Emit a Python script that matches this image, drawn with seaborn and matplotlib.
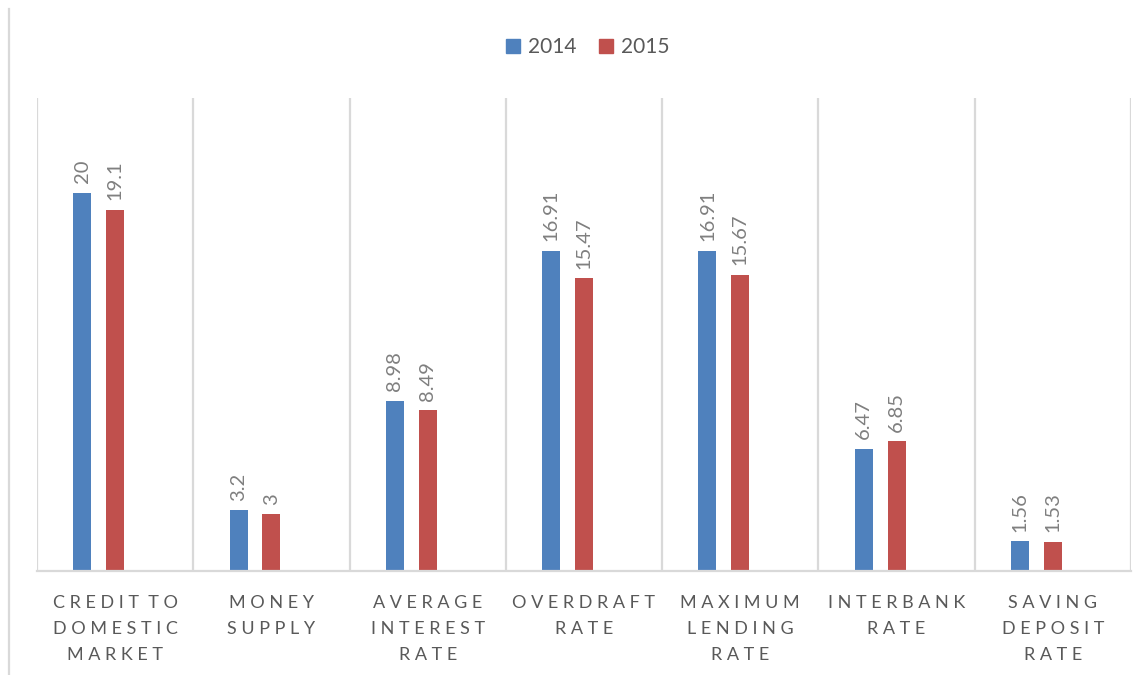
import numpy as np
import pandas as pd
import matplotlib
matplotlib.use("Agg")
import matplotlib.pyplot as plt
from matplotlib.patches import Patch
from matplotlib.lines import Line2D
import seaborn as sns

# ---- data ----
categories = [
    "CREDIT TO\nDOMESTIC\nMARKET",
    "MONEY\nSUPPLY",
    "AVERAGE\nINTEREST\nRATE",
    "OVERDRAFT\nRATE",
    "MAXIMUM\nLENDING\nRATE",
    "INTERBANK\nRATE",
    "SAVING\nDEPOSIT\nRATE",
]
vals_2014 = [20, 3.2, 8.98, 16.91, 16.91, 6.47, 1.56]
vals_2015 = [19.1, 3, 8.49, 15.47, 15.67, 6.85, 1.53]
years = ["2014", "2015"]
label_2014 = ["20", "3.2", "8.98", "16.91", "16.91", "6.47", "1.56"]
label_2015 = ["19.1", "3", "8.49", "15.47", "15.67", "6.85", "1.53"]

BLUE = "#4F81BD"
RED = "#C0504D"
GRID = "#D9D9D9"
TXT = "#595959"
LBL = "#7F7F7F"


def spaced(s):
    # imitate the wide letter spacing of the original labels
    return "\n".join(" ".join(list(line)).replace("   ", "  ") for line in s.split("\n"))


df = pd.DataFrame({
    "cat": categories * 2,
    "val": vals_2014 + vals_2015,
    "year": [years[0]] * 7 + [years[1]] * 7,
})
# third (empty) hue level keeps the Excel-style offset of the bar pair
df["year"] = pd.Categorical(df["year"], categories=["2014", "2015", "blank"])

plt.rcParams["font.family"] = ["Lato", "DejaVu Sans"]

fig = plt.figure(figsize=(11.47, 6.75), dpi=100)
ax = fig.add_axes([37 / 1147, 104 / 675, (1131 - 37) / 1147, (571 - 98) / 675])

sns.barplot(data=df, x="cat", y="val", hue="year", order=categories,
            hue_order=["2014", "2015", "blank"],
            palette={"2014": BLUE, "2015": RED, "blank": "white"},
            width=0.63, gap=0.45, dodge=True, legend=False, ax=ax,
            saturation=1, errorbar=None)

ax.set_xlim(-0.5, 6.5)
ax.set_ylim(0, 25)

# value labels
for cont, labels in zip(ax.containers[:2], [label_2014, label_2015]):
    for bar, lab in zip(cont, labels):
        x = bar.get_x() + bar.get_width() / 2
        ax.annotate(lab, (x, bar.get_height()), xytext=(0, 7),
                    textcoords="offset points", rotation=90,
                    ha="center", va="bottom", color=LBL, fontsize=14.5)

# category separators
for b in np.arange(-0.5, 7.0, 1.0):
    ax.axvline(b, color=GRID, lw=1.6, zorder=0)

for s in ["top", "right", "left"]:
    ax.spines[s].set_visible(False)
ax.spines["bottom"].set_color(GRID)
ax.spines["bottom"].set_linewidth(1.6)

ax.set_yticks([])
ax.set_xticks(range(7))
ax.set_xticklabels([spaced(c) for c in categories], color=TXT, fontsize=13,
                   linespacing=1.78)
ax.tick_params(axis="x", length=0, pad=17)
ax.set_xlabel("")
ax.set_ylabel("")

# chart border fragment on the left
fig.add_artist(Line2D([9 / 1147, 9 / 1147], [0, 1 - 9 / 675],
                      transform=fig.transFigure, color=GRID, lw=1.6))

handles = [Patch(color=BLUE), Patch(color=RED)]
fig.legend(handles, years, loc="center", bbox_to_anchor=(588 / 1147, 1 - 47 / 675),
           ncol=2, frameon=False, fontsize=15, labelcolor=TXT,
           handlelength=0.65, handleheight=0.65, handletextpad=0.4, columnspacing=1.1)

fig.savefig("out.png", dpi=100, facecolor="white")
